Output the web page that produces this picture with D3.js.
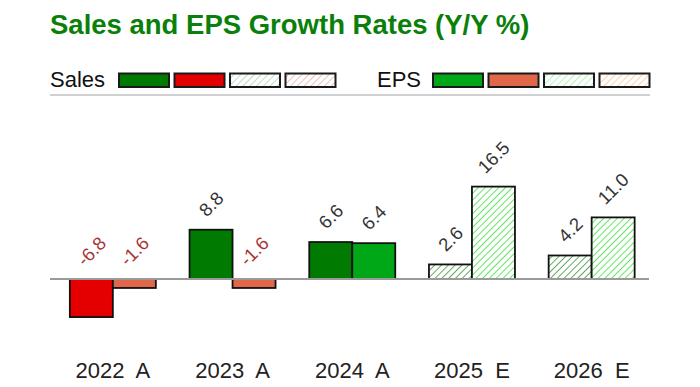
<!DOCTYPE html>
<html><head><meta charset="utf-8">
<script src="https://cdn.jsdelivr.net/npm/d3@7/dist/d3.min.js"></script>
<style>body{margin:0;background:#fff}svg{display:block}text{font-family:"Liberation Sans",Arial,sans-serif}</style>
</head><body><svg id="c" width="700" height="387"></svg>
<script>
const years = ["2022  A", "2023  A", "2024  A", "2025  E", "2026  E"];
const salesGrowth = [-6.8, 8.8, 6.6, 2.6, 4.2];
const epsGrowth = [-1.6, -1.6, 6.4, 16.5, 11.0];
const isEstimate = [false, false, false, true, true];
const seriesNames = ["Sales", "EPS"];

const svg = d3.select("#c");
const defs = svg.append("defs");
function hatch(id, color, w) {
  const P = 4.8;
  const p = defs.append("pattern").attr("id", id).attr("patternUnits", "userSpaceOnUse")
    .attr("width", P).attr("height", P).attr("patternTransform", "rotate(45)");
  p.append("rect").attr("width", P).attr("height", P).attr("fill", "#fff");
  p.append("line").attr("x1", 0).attr("y1", 0).attr("x2", 0).attr("y2", P)
    .attr("stroke", color).attr("stroke-width", w);
}
hatch("hSalesPos", "#2f8f2f", 1.5);
hatch("hSalesNeg", "#d04040", 1.5);
hatch("hEpsPos", "#30e030", 1.5);
hatch("hEpsNeg", "#f0904a", 1.5);
hatch("lgSalesPos", "#a0d4a0", 1.4);
hatch("lgSalesNeg", "#e8a4a4", 1.4);
hatch("lgEpsPos", "#98f098", 1.4);
hatch("lgEpsNeg", "#f8c090", 1.4);

const colors = {
  Sales: {pos: "#007a00", neg: "#e40000", epos: "url(#hSalesPos)", eneg: "url(#hSalesNeg)",
          lg: ["#007a00", "#e40000", "url(#lgSalesPos)", "url(#lgSalesNeg)"]},
  EPS: {pos: "#00a818", neg: "#e0674a", epos: "url(#hEpsPos)", eneg: "url(#hEpsNeg)",
        lg: ["#00a818", "#e0674a", "url(#lgEpsPos)", "url(#lgEpsNeg)"]}
};

// Title
svg.append("text").attr("x", 50).attr("y", 34).attr("fill", "#0a800a")
  .attr("font-size", 27.5).attr("font-weight", "bold").text("Sales and EPS Growth Rates (Y/Y %)");

// Legend
const legendX = {Sales: 50, EPS: 377};
seriesNames.forEach(s => {
  const g = svg.append("g").attr("transform", `translate(${legendX[s]},0)`);
  g.append("text").attr("x", 0).attr("y", 87).attr("font-size", 22).attr("fill", "#111").text(s);
  const bx0 = s === "Sales" ? 69 : 56;
  colors[s].lg.forEach((c, i) => {
    g.append("rect").attr("x", bx0 + i * 55.5).attr("y", 73.5).attr("width", 50).attr("height", 13.5)
      .attr("fill", c).attr("stroke", "#1a1a1a").attr("stroke-width", 2);
  });
});
svg.append("line").attr("x1", 50).attr("x2", 650).attr("y1", 95).attr("y2", 95)
  .attr("stroke", "#d0d0d0").attr("stroke-width", 2);

// Scales
const x = d3.scaleBand().domain(years).range([53, 651.5]).paddingInner(0.2816).paddingOuter(0.1408);
const x1 = d3.scaleBand().domain(seriesNames).range([0, x.bandwidth()]);
const y = d3.scaleLinear().domain([-10, 20]).range([279 + 56, 279 - 112]);

const rows = [];
years.forEach((yr, i) => {
  rows.push({yr, s: "Sales", v: salesGrowth[i], est: isEstimate[i]});
  rows.push({yr, s: "EPS", v: epsGrowth[i], est: isEstimate[i]});
});

function fillOf(d) {
  const c = colors[d.s];
  if (d.est) return d.v >= 0 ? c.epos : c.eneg;
  return d.v >= 0 ? c.pos : c.neg;
}

svg.append("g").selectAll("rect").data(rows).join("rect")
  .attr("x", d => x(d.yr) + x1(d.s))
  .attr("width", x1.bandwidth())
  .attr("y", d => y(Math.max(0, d.v)))
  .attr("height", d => Math.abs(y(d.v) - y(0)))
  .attr("fill", fillOf)
  .attr("stroke", "#111").attr("stroke-width", 1.8);

// zero line
svg.append("line").attr("x1", 50).attr("x2", 649).attr("y1", y(0)).attr("y2", y(0))
  .attr("stroke", "#9a9a9a").attr("stroke-width", 2);

// value labels
const fs = 18.5;
const lab = svg.append("g");
rows.forEach(d => {
  const cx = x(d.yr) + x1(d.s) + x1.bandwidth() / 2;
  const t = lab.append("text").attr("font-size", fs)
    .attr("fill", d.v < 0 ? "#a83434" : "#333")
    .attr("text-anchor", "middle").text(d.v.toFixed(1));
  const L = t.node().getComputedTextLength();
  const h = fs * 0.72;
  const k = Math.SQRT1_2;
  const ax = cx + k * h / 2;
  const ay = y(Math.max(0, d.v)) - 12 - k * L / 2;
  t.attr("transform", `translate(${ax},${ay}) rotate(-45)`);
});

// x axis labels
const xAxis = d3.axisBottom(x).tickSize(0).tickPadding(0);
const axg = svg.append("g").attr("transform", "translate(0,362)").call(xAxis);
axg.select(".domain").remove();
axg.selectAll("text").attr("font-size", 22).attr("fill", "#222")
  .attr("font-family", '"Liberation Sans",Arial,sans-serif').style("white-space", "pre").attr("dy", "0.72em");
</script></body></html>
